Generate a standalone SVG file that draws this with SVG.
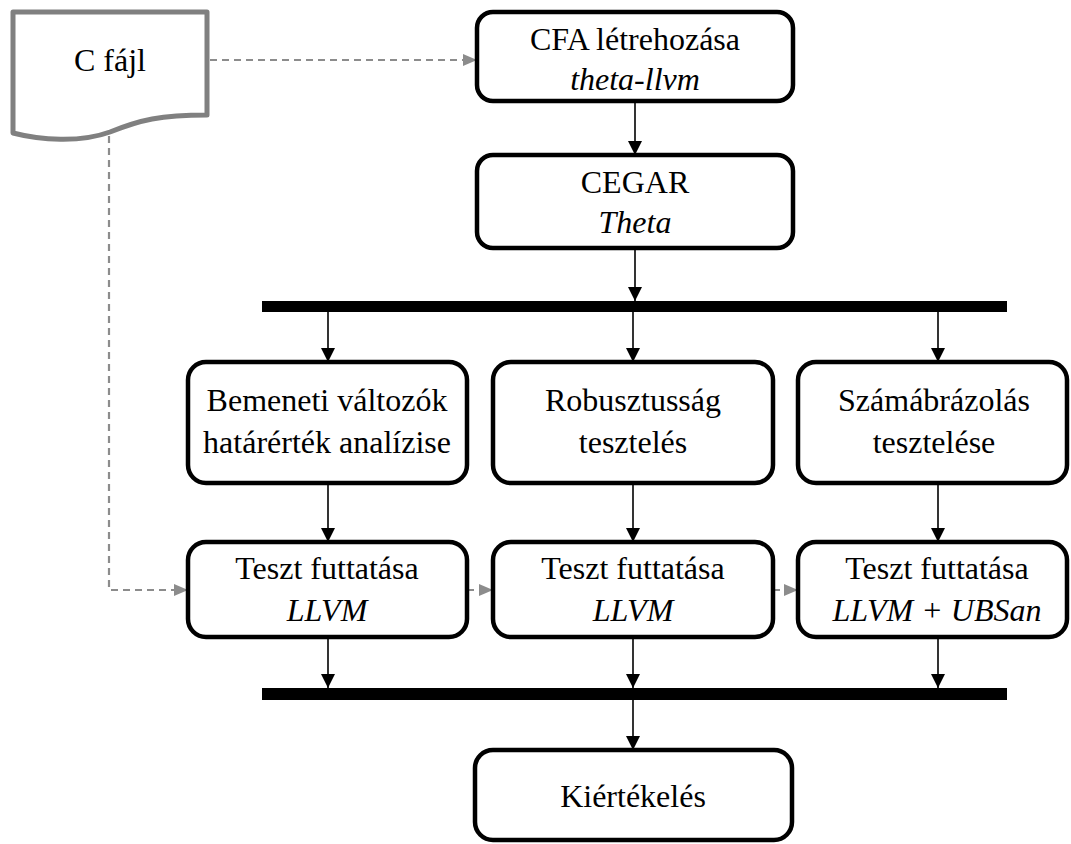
<svg xmlns="http://www.w3.org/2000/svg" width="1071" height="844" viewBox="0 0 1071 844">
  <style>
    .box { fill: #ffffff; stroke: #000000; stroke-width: 4.5; }
    .doc { fill: #ffffff; stroke: #808080; stroke-width: 5; stroke-linejoin: round; }
    .bar { fill: #000000; }
    .flow { fill: none; stroke: #000000; stroke-width: 1.6; marker-end: url(#arrowBlack); }
    .data { fill: none; stroke: #8c8c8c; stroke-width: 2.2; stroke-dasharray: 7 5; marker-end: url(#arrowGray); }
    .lbl { font-family: "Liberation Serif", "Times New Roman", serif; font-size: 32px; fill: #000000; text-anchor: middle; }
    .it { font-style: italic; }
  </style>
  <defs>
    <marker id="arrowBlack" markerUnits="userSpaceOnUse" markerWidth="16" markerHeight="16" viewBox="0 0 16 16" refX="15" refY="8" orient="auto">
      <path d="M1,1 L15,8 L1,15 Z" fill="#000000"/>
    </marker>
    <marker id="arrowGray" markerUnits="userSpaceOnUse" markerWidth="16" markerHeight="16" viewBox="0 0 16 16" refX="15" refY="8" orient="auto">
      <path d="M1,2 L15,8 L1,14 Z" fill="#8c8c8c"/>
    </marker>
  </defs>

  <!-- connectors -->
  <g id="connectors">
    <path class="data" d="M210,60 H477"/>
    <path class="data" d="M109,136 V590 H188"/>
    <path class="data" d="M467,590 H493"/>
    <path class="data" d="M773,590 H798"/>
    <path class="flow" d="M635,101 V155"/>
    <path class="flow" d="M635,248 V301"/>
    <path class="flow" d="M328,312 V362"/>
    <path class="flow" d="M633,312 V362"/>
    <path class="flow" d="M938,312 V362"/>
    <path class="flow" d="M328,483 V542"/>
    <path class="flow" d="M633,483 V542"/>
    <path class="flow" d="M938,483 V542"/>
    <path class="flow" d="M328,637 V688"/>
    <path class="flow" d="M633,637 V688"/>
    <path class="flow" d="M938,637 V688"/>
    <path class="flow" d="M633,700 V750"/>
  </g>

  <!-- synchronisation bars -->
  <g id="fork">
    <rect class="bar" x="262" y="301" width="745" height="11"/>
  </g>
  <g id="join">
    <rect class="bar" x="262" y="688" width="745" height="12"/>
  </g>

  <!-- source document -->
  <g id="cfile">
    <path class="doc" d="M13,12 H207 V115 C160,115 140,120 110,132 C80,143 40,140 13,133 Z"/>
    <text class="lbl" x="110" y="71">C fájl</text>
  </g>

  <g id="cfa">
    <rect class="box" x="477" y="12" width="316" height="89" rx="16"/>
    <text class="lbl" x="635" y="50">CFA létrehozása</text>
    <text class="lbl it" x="635" y="90">theta-llvm</text>
  </g>

  <g id="cegar">
    <rect class="box" x="477" y="155" width="316" height="93" rx="16"/>
    <text class="lbl" x="635" y="193">CEGAR</text>
    <text class="lbl it" x="635" y="233">Theta</text>
  </g>

  <g id="boundary">
    <rect class="box" x="188" y="362" width="279" height="121" rx="18"/>
    <text class="lbl" x="327" y="411">Bemeneti változók</text>
    <text class="lbl" x="327" y="453">határérték analízise</text>
  </g>

  <g id="robustness">
    <rect class="box" x="493" y="362" width="280" height="121" rx="18"/>
    <text class="lbl" x="633" y="411">Robusztusság</text>
    <text class="lbl" x="633" y="453">tesztelés</text>
  </g>

  <g id="numrep">
    <rect class="box" x="798" y="362" width="269" height="121" rx="18"/>
    <text class="lbl" x="934" y="411">Számábrázolás</text>
    <text class="lbl" x="934" y="453">tesztelése</text>
  </g>

  <g id="run1">
    <rect class="box" x="188" y="542" width="279" height="95" rx="18"/>
    <text class="lbl" x="327" y="579">Teszt futtatása</text>
    <text class="lbl it" x="327" y="621">LLVM</text>
  </g>

  <g id="run2">
    <rect class="box" x="493" y="542" width="280" height="95" rx="18"/>
    <text class="lbl" x="633" y="579">Teszt futtatása</text>
    <text class="lbl it" x="633" y="621">LLVM</text>
  </g>

  <g id="run3">
    <rect class="box" x="798" y="542" width="269" height="95" rx="18"/>
    <text class="lbl" x="937" y="579">Teszt futtatása</text>
    <text class="lbl it" x="937" y="621">LLVM + UBSan</text>
  </g>

  <g id="evaluation">
    <rect class="box" x="475" y="750" width="317" height="90" rx="18"/>
    <text class="lbl" x="633" y="807">Kiértékelés</text>
  </g>
</svg>
